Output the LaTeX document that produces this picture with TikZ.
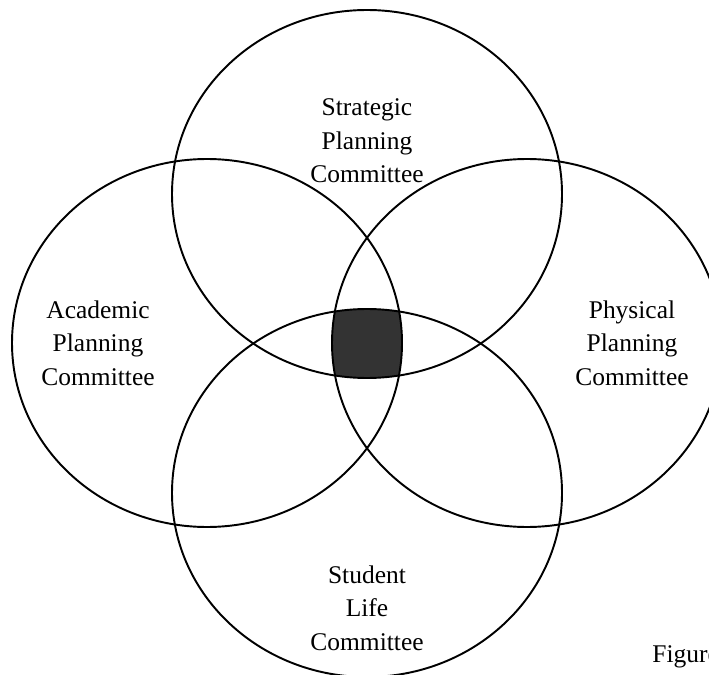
\documentclass[tikz,border=0pt]{standalone}
\usepackage{fontspec}
\setmainfont{Liberation Serif}
\usepackage{tikz}
\usetikzlibrary{positioning}

\tikzset{
  committee/.style={draw, line width=1.1pt},
  caption/.style={align=center, font=\fontsize{14.5}{19}\selectfont, inner sep=0pt},
  core/.style={fill=black!80}
}

\begin{document}
\begin{tikzpicture}[x=0.02cm, y=-0.02cm]
    \useasboundingbox (0,0) rectangle (709,675);

    % Shared centre (all four committees)
    \begin{scope}
        \clip (367,194) ellipse [x radius=195, y radius=184];
        \clip (207,343) ellipse [x radius=195, y radius=184];
        \clip (527,343) ellipse [x radius=195, y radius=184];
        \fill[core] (367,493) ellipse [x radius=195, y radius=184];
    \end{scope}

    % Committee circles
    \draw[committee] (367,194) ellipse [x radius=195, y radius=184];
    \draw[committee] (207,343) ellipse [x radius=195, y radius=184];
    \draw[committee] (527,343) ellipse [x radius=195, y radius=184];
    \draw[committee] (367,493) ellipse [x radius=195, y radius=184];

    % Committee names
    \node[caption] (strategic) at (367,141) {Strategic \\ Planning \\ Committee};
    \node[caption] (academic) at (98,343) {Academic \\ Planning \\ Committee};
    \node[caption] (physical) at (632,343) {Physical \\ Planning \\ Committee};
    \node[caption] (student) at (367,608) {Student \\ Life \\ Committee};

    % Caption cut off at the right edge
    \node[caption, anchor=west] (figure) at (652,657) {Figure};
\end{tikzpicture}
\end{document}
